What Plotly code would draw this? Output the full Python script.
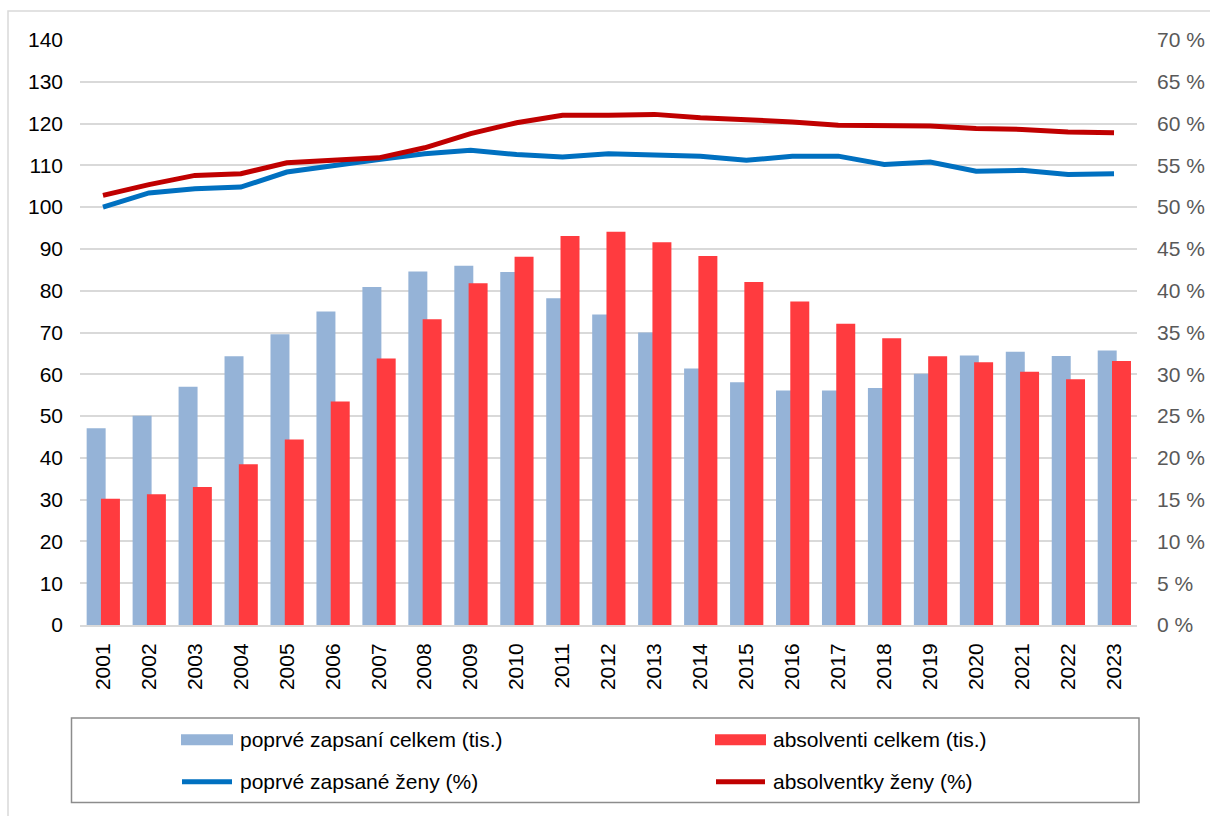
import plotly.graph_objects as go

# Czech higher-education statistics, 2001-2023
years = [str(y) for y in range(2001, 2024)]

# first-time enrolled students, total (thousands)
zapsani_celkem = [47.1, 50.1, 57.0, 64.3, 69.6, 75.0, 80.9, 84.6, 86.0, 84.5, 78.2, 74.3,
                  70.0, 61.4, 58.1, 56.1, 56.1, 56.7, 60.1, 64.5, 65.4, 64.4, 65.7]
# graduates, total (thousands)
absolventi_celkem = [30.2, 31.3, 33.0, 38.5, 44.4, 53.5, 63.8, 73.2, 81.8, 88.1, 93.1, 94.1,
                     91.6, 88.3, 82.1, 77.4, 72.1, 68.6, 64.3, 62.9, 60.6, 58.8, 63.2]
# share of women among first-time enrolled (%)
zapsane_zeny = [50.0, 51.7, 52.2, 52.4, 54.2, 55.0, 55.7, 56.4, 56.8, 56.3, 56.0, 56.4,
                56.3, 56.1, 55.6, 56.1, 56.1, 55.1, 55.4, 54.3, 54.4, 53.9, 54.0]
# share of women among graduates (%)
absolventky_zeny = [51.4, 52.7, 53.8, 54.0, 55.3, 55.6, 55.9, 57.1, 58.8, 60.1, 61.0, 61.0,
                    61.1, 60.7, 60.5, 60.2, 59.8, 59.7, 59.7, 59.4, 59.3, 59.0, 58.9]

legend_labels = ["poprvé zapsaní celkem (tis.)", "absolventi celkem (tis.)",
                 "poprvé zapsané ženy (%)", "absolventky ženy (%)"]

C_BAR_BLUE = "#95B3D7"
C_BAR_RED = "#FF3B3F"
C_LINE_BLUE = "#0070C0"
C_LINE_RED = "#C00000"
FONT = "Arial, 'Liberation Sans', sans-serif"
FS = 21

W, H = 1210, 816
PL, PR, PT, PB = 80, 1137, 40, 625  # plot area in pixels


def px(x):
    return (x - PL) / (PR - PL)


def py(y):
    return (PB - y) / (PB - PT)


fig = go.Figure()

fig.add_trace(go.Bar(x=years, y=zapsani_celkem, name=legend_labels[0],
                     marker=dict(color=C_BAR_BLUE, line=dict(width=0)),
                     width=0.413, offset=-0.355))
fig.add_trace(go.Bar(x=years, y=absolventi_celkem, name=legend_labels[1],
                     marker=dict(color=C_BAR_RED, line=dict(width=0)),
                     width=0.413, offset=-0.044))
fig.add_trace(go.Scatter(x=years, y=zapsane_zeny, name=legend_labels[2], yaxis="y2",
                         mode="lines", line=dict(color=C_LINE_BLUE, width=5)))
fig.add_trace(go.Scatter(x=years, y=absolventky_zeny, name=legend_labels[3], yaxis="y2",
                         mode="lines", line=dict(color=C_LINE_RED, width=5)))

shapes = []
annotations = []

# outer chart frame
shapes.append(dict(type="rect", xref="paper", yref="paper",
                   x0=px(8), x1=px(1220), y0=py(11), y1=py(830),
                   line=dict(color="#D9D9D9", width=1.5), fillcolor="rgba(0,0,0,0)", layer="below"))

# legend box
shapes.append(dict(type="rect", xref="paper", yref="paper",
                   x0=px(71.5), x1=px(1139), y0=py(718), y1=py(802.5),
                   line=dict(color="#8C8C8C", width=1.5), fillcolor="white"))

rows = [739.7, 781.7]
cols = [(181, 233, 238), (715, 766, 771)]
colors = [(C_BAR_BLUE, C_BAR_RED), (C_LINE_BLUE, C_LINE_RED)]
k = 0
for r, yrow in enumerate(rows):
    for c, (sx0, sx1, tx) in enumerate(cols):
        col = colors[r][c]
        if r == 0:
            shapes.append(dict(type="rect", xref="paper", yref="paper",
                               x0=px(sx0), x1=px(sx1), y0=py(yrow - 5.5), y1=py(yrow + 5.5),
                               line=dict(width=0), fillcolor=col))
        else:
            shapes.append(dict(type="line", xref="paper", yref="paper",
                               x0=px(sx0 + 1), x1=px(sx1 - 1), y0=py(yrow), y1=py(yrow),
                               line=dict(color=col, width=5)))
        annotations.append(dict(text=legend_labels[k], xref="paper", yref="paper",
                                x=px(tx), y=py(yrow), xanchor="left", yanchor="middle",
                                showarrow=False, font=dict(family=FONT, size=FS, color="#000000")))
        k += 1

fig.update_layout(
    width=W, height=H,
    margin=dict(l=PL, r=W - PR, t=PT, b=H - PB, pad=0, autoexpand=False),
    paper_bgcolor="white", plot_bgcolor="white",
    barmode="overlay",
    showlegend=False,
    font=dict(family=FONT, size=FS, color="#000000"),
    xaxis=dict(type="category", tickangle=-90, showgrid=False, automargin=False,
               showline=True, linecolor="#D9D9D9", linewidth=2,
               ticks="", ticklabelstandoff=8,
               tickfont=dict(family=FONT, size=FS, color="#000000")),
    yaxis=dict(range=[0, 140], dtick=10, showgrid=True, gridcolor="#D9D9D9", gridwidth=1.5,
               zeroline=False, showline=False, ticks="", ticklabelstandoff=16, automargin=False,
               tickfont=dict(family=FONT, size=FS, color="#000000")),
    yaxis2=dict(range=[0, 70], dtick=5, overlaying="y", side="right", showgrid=False,
                zeroline=False, showline=False, ticks="", ticksuffix=" %", automargin=False,
                ticklabelstandoff=19,
                tickfont=dict(family=FONT, size=FS, color="#595959")),
    shapes=shapes,
    annotations=annotations,
)

fig.write_html("out.html")
